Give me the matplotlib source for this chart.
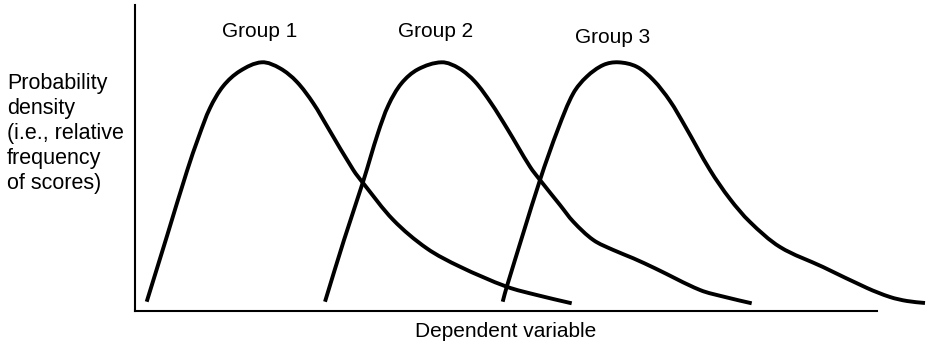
import matplotlib
matplotlib.use("Agg")
import matplotlib.pyplot as plt
import numpy as np
from matplotlib.path import Path
from matplotlib.patches import PathPatch

plt.rcParams['font.family'] = ['Liberation Sans', 'DejaVu Sans']

# Curve points (x along dependent variable, y = density)
group1_x = [11.7, 32, 52, 64, 75, 88.3, 105, 126.7, 145, 161.7, 178.3, 193.3,
            218.3, 228.3, 258.3, 291.7, 325, 371.7, 401.7, 436.7]
group1_y = [9.3, 75, 140, 175, 203, 225, 240, 248.7, 242.7, 229.3, 207.7, 182.7,
            141, 127.7, 91, 62.7, 44.3, 24.3, 16, 7.7]

group2_x = [190, 209, 228.3, 243, 253.5, 266.5, 283, 306.7, 324, 340, 356, 372,
            395, 405, 425, 438.3, 458.3, 478.3, 498.3, 520, 565, 590, 616.7]
group2_y = [9.3, 71, 130, 178, 206, 227.7, 241.7, 248.7, 242.7, 229.3, 208, 182.7,
            144.3, 131, 106, 89.3, 71, 61, 52.7, 42.7, 21, 14, 7.7]

group3_x = [367.7, 371.7, 405, 423.3, 438.3, 451.7, 468.3, 483.3, 501.7, 518.3, 535,
            550, 575, 595, 615, 645, 688, 732, 755, 772, 790]
group3_y = [9.3, 24, 131, 182.7, 217.7, 234.3, 246, 248.7, 244.3, 231, 210,
            185, 141, 112, 89, 64, 44, 23, 14, 10, 8]

group_labels = ["Group 1", "Group 2", "Group 3"]
ylabel_text = "Probability\ndensity\n(i.e., relative\nfrequency\nof scores)"
xlabel_text = "Dependent variable"

W, H = 927, 347
fig = plt.figure(figsize=(W / 100, H / 100), dpi=100)
fig.patch.set_facecolor("white")

# axes: left spine at x=135px, baseline at y=311px, top at 5px, right end at 877px
ax = fig.add_axes([135 / W, (H - 311) / H, (877 - 135) / W, (311 - 5) / H])
ax.set_xlim(0, 742)
ax.set_ylim(0, 306)
for s in ["top", "right"]:
    ax.spines[s].set_visible(False)
for s in ["left", "bottom"]:
    ax.spines[s].set_linewidth(1.5)
    ax.spines[s].set_color("black")
ax.set_xticks([])
ax.set_yticks([])


def smooth_path(xs, ys):
    """Cubic Bezier path passing through the given points (smooth joins)."""
    P = np.column_stack([xs, ys]).astype(float)
    n = len(P)
    tang = np.zeros_like(P)
    for i in range(n):
        if i == 0:
            d = P[1] - P[0]
        elif i == n - 1:
            d = P[-1] - P[-2]
        else:
            d = P[i + 1] - P[i - 1]
        tang[i] = d / np.hypot(*d)
    verts = [P[0]]
    codes = [Path.MOVETO]
    for i in range(n - 1):
        L = np.hypot(*(P[i + 1] - P[i])) / 3.0
        verts += [P[i] + tang[i] * L, P[i + 1] - tang[i + 1] * L, P[i + 1]]
        codes += [Path.CURVE4] * 3
    return Path(np.array(verts), codes)


for xs, ys in [(group1_x, group1_y), (group2_x, group2_y), (group3_x, group3_y)]:
    patch = PathPatch(smooth_path(xs, ys), facecolor="none", edgecolor="black",
                      lw=2.8, capstyle="butt", joinstyle="round",
                      transform=ax.transData, clip_on=False)
    ax.add_patch(patch)


def px(x, y):
    return x / W, 1 - y / H


label_pos = [(260, 37), (436, 37), (613, 43)]
for lab, (x, y) in zip(group_labels, label_pos):
    fig.text(*px(x, y), lab, ha="center", va="baseline", fontsize=15, color="black")

fig.text(*px(7, 73), ylabel_text, ha="left", va="top", fontsize=15.5,
         linespacing=1.25, color="black")
fig.text(*px(506, 337), xlabel_text, ha="center", va="baseline", fontsize=15,
         color="black")

fig.savefig("out.png", dpi=100, facecolor="white")
